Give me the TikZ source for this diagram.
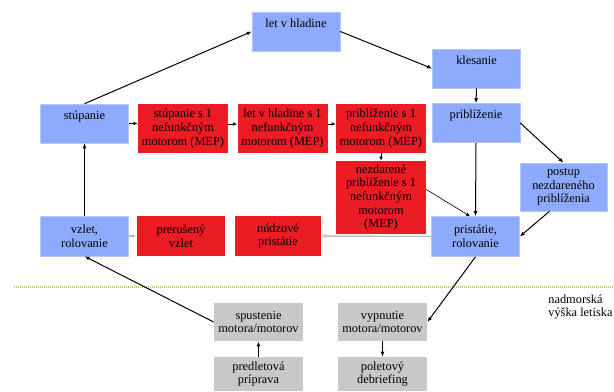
\documentclass[tikz,border=0pt]{standalone}
\usepackage{fontspec}
\setmainfont{Liberation Serif}
\usetikzlibrary{arrows.meta}
\definecolor{phaseblue}{RGB}{142,170,252}
\definecolor{phaseedge}{RGB}{178,198,255}
\definecolor{mepred}{RGB}{236,28,36}
\definecolor{groundgrey}{RGB}{200,200,200}
\definecolor{abortgrey}{RGB}{192,192,192}
\definecolor{levelgreen}{RGB}{186,204,122}
\tikzset{every picture/.style={line width=0.75pt},
  boxtext/.style={align=center, inner sep=1pt, font=\rmfamily\fontsize{12.4}{13.6}\selectfont},
  phase/.style={boxtext, fill=phaseblue, draw=phaseedge, line width=0.6pt, minimum width=88bp, minimum height=39bp},
  phasetop/.style={phase, text height=8bp, text depth=17bp},
  mep/.style={boxtext, fill=mepred, minimum width=90bp, minimum height=49bp},
  ground/.style={boxtext, fill=groundgrey, minimum width=89bp, minimum height=38bp},
  flow/.style={-{Latex[length=5bp,width=4bp]}, line width=1bp},
  thinflow/.style={-{Latex[length=4bp,width=3.5bp]}, line width=0.6bp},
  abortflow/.style={-{Latex[length=4.5bp,width=4bp]}, draw=abortgrey, line width=1.5bp}}

\begin{document}
\begin{tikzpicture}[x=1bp,y=-1bp]
    \useasboundingbox (0,0) rectangle (614,391);

    % airport elevation
    \draw[levelgreen, line width=1.6bp, dash pattern=on 1bp off 1bp] (14,287) -- (614,287);
    \node[boxtext, align=left, anchor=west] (elevation) at (547,307) {nadmorská\\výška letiska};

    % normal flight phases
    \node[phasetop] (cruise) at (296,31.5) {let v hladine};
    \node[phasetop] (descent) at (476.5,68.5) {klesanie};
    \node[phasetop] (climb) at (84.5,123.5) {stúpanie};
    \node[phasetop] (approach) at (476,123) {priblíženie};
    \node[phase, minimum width=87bp, minimum height=48bp] (goaround) at (563.5,187) {postup\\nezdareného\\priblíženia};
    \node[phase, minimum height=40bp] (takeoff) at (84.5,236) {vzlet,\\rolovanie};
    \node[phase, minimum height=40bp] (landing) at (475.5,236.5) {pristátie,\\rolovanie};

    % one engine inoperative
    \node[mep] (climbMEP) at (183,128.5) {stúpanie s 1\\nefunkčným\\motorom (MEP)};
    \node[mep] (cruiseMEP) at (282.5,128.5) {let v hladine s 1\\nefunkčným\\motorom (MEP)};
    \node[mep] (approachMEP) at (381,128.5) {priblíženie s 1\\nefunkčným\\motorom (MEP)};
    \node[mep, minimum height=73bp] (goaroundMEP) at (381,197.5) {nezdarené\\priblíženie s 1\\nefunkčným\\motorom\\(MEP)};
    \node[mep, minimum width=88bp, minimum height=40bp] (rejected) at (181,236) {prerušený\\vzlet};
    \node[mep, minimum width=86bp, minimum height=40bp] (emergency) at (278,236) {núdzové\\pristátie};

    % on the ground
    \node[ground] (startup) at (258.5,322) {spustenie\\motora/motorov};
    \node[ground] (shutdown) at (382.5,322) {vypnutie\\motora/motorov};
    \node[ground, minimum height=34bp] (preflight) at (258.5,374) {predletová\\príprava};
    \node[ground, minimum height=34bp] (debrief) at (382.5,374) {poletový\\debriefing};

    % main cycle
    \draw[flow] (climb.north) -- (cruise.west);
    \draw[flow] (cruise.east) -- (descent.west);
    \draw[flow] (descent.south) -- (approach.north);
    \draw[flow] (approach.south) -- (landing.north);
    \draw[flow] (approach.east) -- (goaround.north);
    \draw[flow] ([xshift=-14bp]goaround.south) -- (landing.east);
    \draw[flow] (landing.south) -- (shutdown.east);
    \draw[flow] (shutdown.south) -- (debrief.north);
    \draw[flow] (preflight.north) -- (startup.south);
    \draw[flow] (startup.west) -- (takeoff.south);
    \draw[flow] (takeoff.north) -- (climb.south);

    % MEP branch
    \draw[thinflow] (climb.east) -- (climb.east -| climbMEP.west);
    \draw[thinflow] ([yshift=4.5bp]climbMEP.east) -- ([yshift=4.5bp]cruiseMEP.west);
    \draw[thinflow] ([yshift=4.5bp]cruiseMEP.east) -- ([yshift=4.5bp]approachMEP.west);
    \draw[thinflow] (approachMEP.south) -- (goaroundMEP.north);
    \draw[thinflow] ([yshift=8bp]goaroundMEP.east) -- ([xshift=-5.5bp]landing.north);

    % aborted
    \draw[abortflow] (takeoff.east) -- (rejected.west);
    \draw[abortflow] (landing.west) -- (emergency.east);
\end{tikzpicture}
\end{document}
